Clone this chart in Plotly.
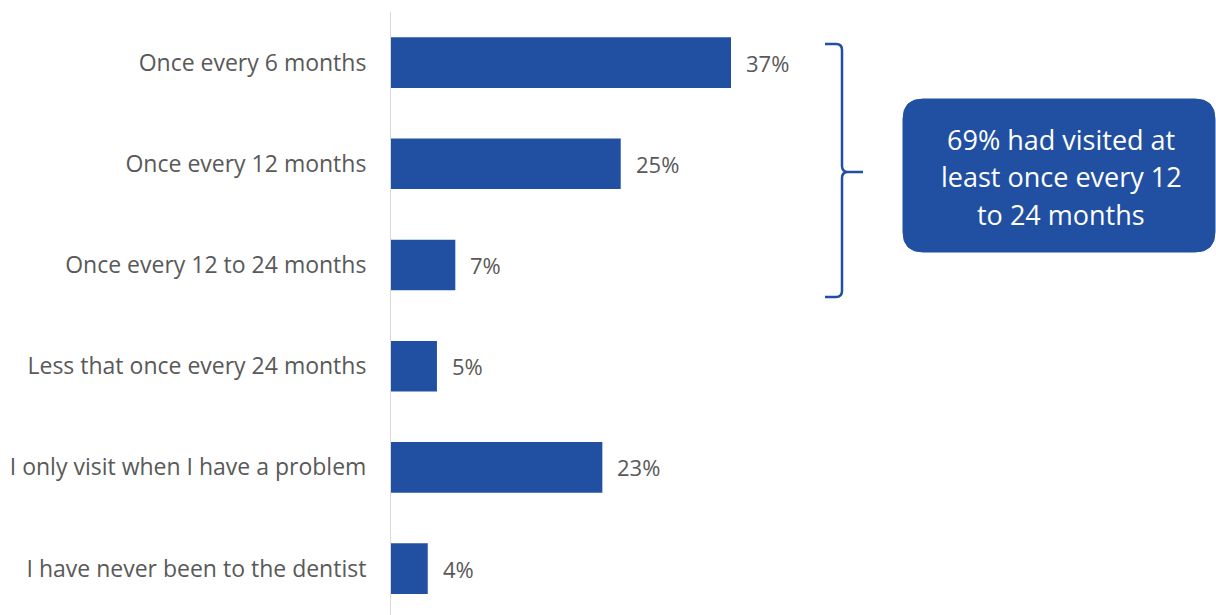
import plotly.graph_objects as go

# Survey: how often respondents visit the dentist
categories = [
    "Once every 6 months",
    "Once every 12 months",
    "Once every 12 to 24 months",
    "Less that once every 24 months",
    "I only visit when I have a problem",
    "I have never been to the dentist",
]
shares = [37, 25, 7, 5, 23, 4]
callout_lines = ["69% had visited at", "least once every 12", "to 24 months"]

BLUE = "#2150a3"
GREY_TEXT = "#595959"
FONT = "Open Sans"

W, H = 1216, 615
ML, MR, MT, MB = 391, 0, 12, 0
PW, PH = W - ML - MR, H - MT - MB


def px(x):
    return (x - ML) / PW


def py(y):
    return 1 - (y - MT) / PH


fig = go.Figure()
fig.add_trace(go.Bar(
    x=shares,
    y=categories,
    orientation="h",
    width=0.5,
    marker=dict(color=BLUE, line=dict(width=0)),
    hoverinfo="skip",
))

# value labels just past the end of each bar
for c, v in zip(categories, shares):
    fig.add_annotation(
        x=v, y=c, xref="x", yref="y",
        text=f"{v}%", showarrow=False,
        xanchor="left", yanchor="middle", xshift=13,
        font=dict(family=FONT, size=22, color=GREY_TEXT),
    )

# curly bracket grouping the first three answers
bx, btop, bbot, bmid = 842, 44, 297, 172
hook_l, tip_r, r = 825, 863, 6
bracket = (
    f"M {px(hook_l)},{py(btop)} L {px(bx - r)},{py(btop)} "
    f"Q {px(bx)},{py(btop)} {px(bx)},{py(btop + r)} "
    f"L {px(bx)},{py(bmid - r)} "
    f"Q {px(bx)},{py(bmid)} {px(bx + r)},{py(bmid)} "
    f"L {px(tip_r)},{py(bmid)} "
    f"M {px(bx + r)},{py(bmid)} Q {px(bx)},{py(bmid)} {px(bx)},{py(bmid + r)} "
    f"L {px(bx)},{py(bbot - r)} "
    f"Q {px(bx)},{py(bbot)} {px(bx - r)},{py(bbot)} "
    f"L {px(hook_l)},{py(bbot)}"
)
fig.add_shape(type="path", path=bracket, xref="paper", yref="paper",
              line=dict(color=BLUE, width=2.5))

# rounded call-out box
x0, x1, y0, y1, rr = 903, 1215, 99, 252, 20
box = (
    f"M {px(x0 + rr)},{py(y0)} L {px(x1 - rr)},{py(y0)} "
    f"Q {px(x1)},{py(y0)} {px(x1)},{py(y0 + rr)} "
    f"L {px(x1)},{py(y1 - rr)} "
    f"Q {px(x1)},{py(y1)} {px(x1 - rr)},{py(y1)} "
    f"L {px(x0 + rr)},{py(y1)} "
    f"Q {px(x0)},{py(y1)} {px(x0)},{py(y1 - rr)} "
    f"L {px(x0)},{py(y0 + rr)} "
    f"Q {px(x0)},{py(y0)} {px(x0 + rr)},{py(y0)} Z"
)
fig.add_shape(type="path", path=box, xref="paper", yref="paper",
              fillcolor=BLUE, line=dict(color=BLUE, width=1))

line_gap = 37.5
cy = (y0 + y1) / 2 + 1
for i, line in enumerate(callout_lines):
    fig.add_annotation(
        x=px((x0 + x1) / 2 + 2), y=py(cy + (i - 1) * line_gap),
        xref="paper", yref="paper",
        text=line, showarrow=False,
        xanchor="center", yanchor="middle",
        font=dict(family=FONT, size=27, color="white"),
    )

px_per_unit = (731 - 391) / 37
band = 101.2
fig.update_layout(
    width=W, height=H,
    margin=dict(l=ML, r=MR, t=MT, b=MB),
    paper_bgcolor="white", plot_bgcolor="rgba(0,0,0,0)",
    showlegend=False,
    font=dict(family=FONT, size=23, color=GREY_TEXT),
    xaxis=dict(range=[0, PW / px_per_unit], visible=False, fixedrange=True),
    yaxis=dict(
        categoryorder="array", categoryarray=categories,
        range=[-0.5 + PH / band, -0.5],
        showline=True, linecolor="#d9d9d9", linewidth=1,
        showgrid=False, zeroline=False, ticks="",
        ticklabelstandoff=19,
        tickfont=dict(family=FONT, size=23, color=GREY_TEXT),
        fixedrange=True,
    ),
)

fig.write_html("out.html", config={"displayModeBar": False})
